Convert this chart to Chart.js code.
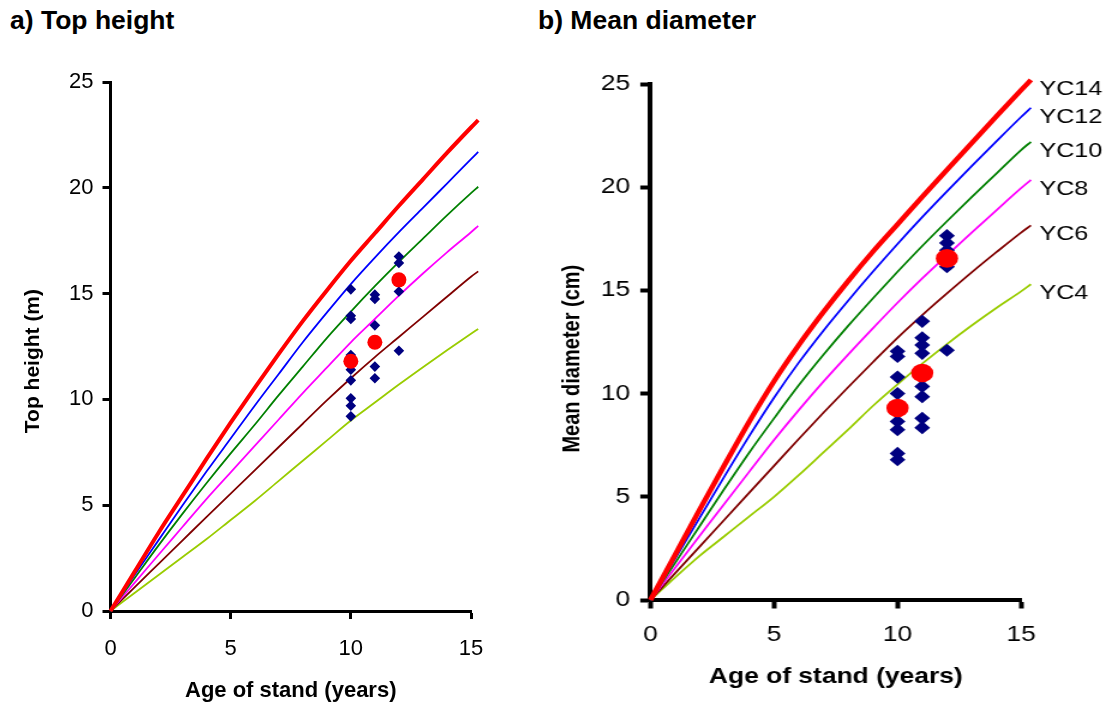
<!DOCTYPE html>
<html><head><meta charset="utf-8">
<script src="https://cdn.jsdelivr.net/npm/chart.js@4/dist/chart.umd.min.js"></script>
<style>
html,body{margin:0;padding:0;background:#fff;width:1112px;height:704px;overflow:hidden;position:relative;font-family:"Liberation Sans",Arial,sans-serif}
.ptitle{position:absolute;top:7px;font-weight:bold;font-size:26.5px;line-height:26px;color:#000;white-space:nowrap}
#wa{position:absolute;left:0;top:0;width:540px;height:704px}
#wb{position:absolute;left:560px;top:0;width:460px;height:704px;transform:scaleX(1.2);transform-origin:0 0}
</style></head>
<body>
<div class="ptitle" style="left:10px">a) Top height</div>
<div class="ptitle" style="left:538px">b) Mean diameter</div>
<div id="wa"><canvas id="ca"></canvas></div>
<div id="wb"><canvas id="cb"></canvas></div>
<script>
// ---- data ----
const classes = ['YC14','YC12','YC10','YC8','YC6','YC4'];
const classColors = ['#FF0000','#0000FF','#008000','#FF00FF','#800000','#99CC00'];

const heightAges = [0,1,2,3,4,5,6,7,8,9,10,11,12,13,14,15,15.3];
const heightYC14 = [0,1.85,3.7,5.45,7.2,8.9,10.55,12.15,13.7,15.15,16.55,17.85,19.15,20.4,21.65,22.85,23.2];
const heightYC12 = [0,1.7,3.35,5.0,6.6,8.15,9.7,11.2,12.7,14.1,15.45,16.7,17.9,19.05,20.2,21.35,21.7];
const heightYC10 = [0,1.55,3.1,4.6,6.05,7.45,8.8,10.2,11.55,12.9,14.15,15.35,16.5,17.6,18.7,19.75,20.05];
const heightYC8  = [0,1.33,2.66,3.98,5.3,6.55,7.8,9.05,10.3,11.5,12.7,13.8,14.9,15.95,16.95,17.9,18.2];
const heightYC6  = [0,1.12,2.23,3.34,4.45,5.55,6.65,7.75,8.85,9.95,11.0,12.0,12.95,13.9,14.85,15.8,16.05];
const heightYC4  = [0,0.85,1.7,2.55,3.4,4.3,5.2,6.15,7.1,8.05,9.0,9.85,10.7,11.52,12.32,13.1,13.33];

const diamAges = [0,1,2,3,4,5,6,7,8,9,10,11,12,13,14,15,15.4];
const diamYC14 = [0,2.2,4.4,6.55,8.65,10.6,12.35,13.95,15.45,16.87,18.2,19.53,20.84,22.14,23.43,24.7,25.2];
const diamYC12 = [0,2.0,4.0,6.0,7.95,9.8,11.5,13.05,14.5,15.9,17.25,18.55,19.8,21.02,22.22,23.4,23.85];
const diamYC10 = [0,1.8,3.6,5.4,7.15,8.8,10.4,11.88,13.28,14.61,15.9,17.15,18.35,19.52,20.66,21.8,22.2];
const diamYC8  = [0,1.56,3.12,4.68,6.22,7.75,9.2,10.58,11.89,13.16,14.4,15.58,16.7,17.8,18.88,19.95,20.35];
const diamYC6  = [0,1.3,2.6,3.9,5.2,6.5,7.8,9.07,10.31,11.52,12.7,13.8,14.85,15.87,16.85,17.8,18.15];
const diamYC4  = [0,1.1,2.15,3.1,4.05,5.0,6.05,7.15,8.25,9.4,10.45,11.45,12.4,13.3,14.15,14.95,15.3];

const obsAges = [10, 11, 12];
const heightObs10 = [15.2,13.95,13.8,12.1,11.4,10.9,10.05,9.7,9.2];
const heightObs11 = [14.95,14.75,13.5,11.55,11.0];
const heightObs12 = [16.75,16.45,15.1,12.3];
const heightMeans = [11.8,12.7,15.65];

const diamObs10 = [12.05,11.8,10.8,10.0,8.65,8.25,7.1,6.8];
const diamObs11 = [13.5,12.7,12.35,11.95,10.35,9.85,8.8,8.35];
const diamObs12 = [17.65,17.3,16.95,16.3,16.15,12.1];
const diamMeans = [9.3,11.0,16.55];

const xTicks = [0,5,10,15];
const yTicks = [0,5,10,15,20,25];

// ---- helpers ----
const FONT = '"Liberation Sans", Arial, sans-serif';
const pairs = (xs, ys) => ys.map((y, i) => ({x: xs[i], y}));
const obsPoints = (cols) => cols.flatMap((col, i) => col.map(y => ({x: obsAges[i], y})));

const endLabels = {
  id: 'endLabels',
  afterDatasetsDraw(chart, args, opts) {
    if (!opts || !opts.show) return;
    const ctx = chart.ctx;
    ctx.save();
    ctx.font = opts.font;
    ctx.fillStyle = '#000';
    ctx.textBaseline = 'middle';
    ctx.textAlign = 'left';
    chart.data.datasets.forEach((ds, i) => {
      if (!ds.curve) return;
      const meta = chart.getDatasetMeta(i);
      const pt = meta.data[meta.data.length - 1];
      if (!pt || !isFinite(pt.x)) return;
      ctx.fillText(ds.label, pt.x + opts.dx, pt.y + opts.dy);
    });
    ctx.restore();
  }
};

function build(canvasId, cfg) {
  const curveSets = cfg.curves.map((ys, i) => ({
    label: classes[i],
    curve: true,
    data: pairs(cfg.ages, ys),
    showLine: true,
    borderColor: classColors[i],
    backgroundColor: classColors[i],
    borderWidth: i === 0 ? cfg.redWidth : cfg.lineWidth,
    pointRadius: 0,
    cubicInterpolationMode: 'monotone',
    clip: false
  }));
  const datasets = [
    {label: 'Mean', data: pairs(obsAges, cfg.means), pointStyle: 'circle',
     pointRadius: cfg.dotR, pointHoverRadius: cfg.dotR, backgroundColor: '#FF0000', borderWidth: 0, showLine: false},
    {label: 'Stands', data: obsPoints(cfg.obs), pointStyle: 'rectRot',
     pointRadius: cfg.diaR, pointHoverRadius: cfg.diaR, backgroundColor: '#000080', borderWidth: 0, showLine: false},
    ...curveSets
  ];
  const axisCommon = (lo, hi, ticks, extra) => Object.assign({
    type: 'linear',
    bounds: 'data',
    afterDataLimits: (s) => { s.min = lo; s.max = hi; },
    afterBuildTicks: (s) => { s.min = lo; s.max = hi; s.ticks = ticks.map(v => ({value: v})); },
    border: {display: true, color: '#000', width: cfg.axisW},
    grid: {display: true, drawOnChartArea: false, drawTicks: true, tickLength: cfg.tickLen, tickWidth: cfg.axisW, tickColor: '#000'}
  }, extra);
  return new Chart(document.getElementById(canvasId), {
    type: 'scatter',
    data: {datasets},
    plugins: [endLabels],
    options: {
      responsive: true,
      maintainAspectRatio: false,
      animation: false,
      events: [],
      layout: {padding: {top: cfg.padTop, right: cfg.padRight, left: 0, bottom: 0}},
      plugins: {
        legend: {display: false},
        tooltip: {enabled: false},
        title: {display: false},
        endLabels: {show: cfg.showEnd, font: cfg.endFont, dx: cfg.endDx, dy: cfg.endDy}
      },
      scales: {
        x: axisCommon(0, 15, xTicks, {
          afterFit: (s) => { s.height = cfg.xH; },
          ticks: {color: '#000', font: {family: FONT, size: cfg.tickFont}, padding: cfg.xTickPad, maxRotation: 0},
          title: {display: true, text: cfg.xTitle, color: '#000',
                  font: {family: FONT, size: cfg.xTitleFont, weight: 'bold', lineHeight: 1},
                  padding: {top: 0, bottom: cfg.xTitlePad}}
        }),
        y: axisCommon(0, 25, yTicks, {
          afterFit: (s) => { s.width = cfg.yW; },
          ticks: {color: '#000', font: {family: FONT, size: cfg.tickFont}, padding: cfg.yTickPad},
          title: {display: true, text: cfg.yTitle, color: '#000',
                  font: {family: FONT, size: cfg.yTitleFont, weight: 'bold', lineHeight: 1},
                  padding: {top: cfg.yTitlePad, bottom: 0}}
        })
      }
    }
  });
}

build('ca', {
  ages: heightAges,
  curves: [heightYC14, heightYC12, heightYC10, heightYC8, heightYC6, heightYC4],
  obs: [heightObs10, heightObs11, heightObs12],
  means: heightMeans,
  redWidth: 4, lineWidth: 1.8, dotR: 7.5, diaR: 5.3,
  axisW: 3, tickLen: 8,
  padTop: 82, padRight: 69, xH: 93, yW: 110.5,
  tickFont: 22, xTickPad: 17, yTickPad: 9,
  xTitle: 'Age of stand (years)', xTitleFont: 22, xTitlePad: 2,
  yTitle: 'Top height (m)     ', yTitleFont: 21, yTitlePad: 23,
  showEnd: false
});

build('cb', {
  ages: diamAges,
  curves: [diamYC14, diamYC12, diamYC10, diamYC8, diamYC6, diamYC4],
  obs: [diamObs10, diamObs11, diamObs12],
  means: diamMeans,
  redWidth: 4.5, lineWidth: 1.8, dotR: 9.3, diaR: 6.6,
  axisW: 4, tickLen: 8.5,
  padTop: 84, padRight: 75.8, xH: 104, yW: 75.4,
  tickFont: 22, xTickPad: 13, yTickPad: 8.5,
  xTitle: 'Age of stand (years)', xTitleFont: 22, xTitlePad: 16,
  yTitle: 'Mean diameter (cm)      ', yTitleFont: 20, yTitlePad: 0,
  showEnd: true, endFont: '21px ' + FONT, endDx: 7, endDy: 9
});
</script>
</body></html>
